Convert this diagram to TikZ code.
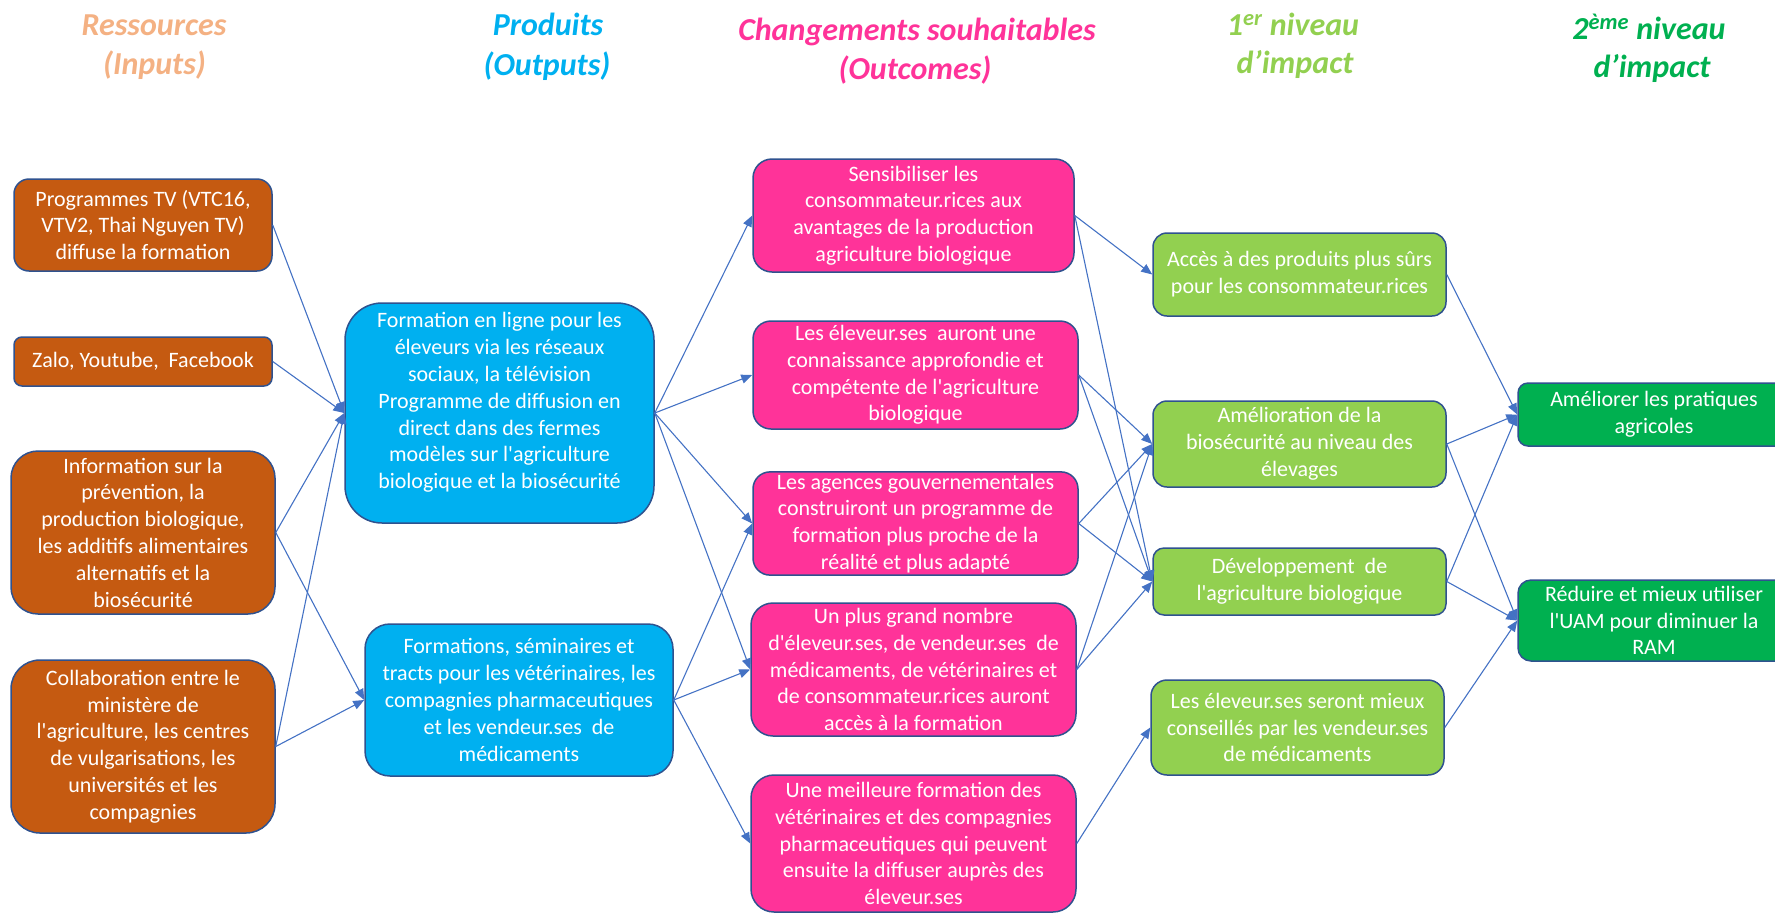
\documentclass[tikz,border=0pt]{standalone}
\usepackage{fontspec}
\setmainfont{Carlito}[Ligatures=TeXOff]
\usetikzlibrary{arrows.meta}
\definecolor{corange}{HTML}{C55A11}
\definecolor{cblue}{HTML}{00B0F0}
\definecolor{cpink}{HTML}{FF3399}
\definecolor{clgreen}{HTML}{92D050}
\definecolor{cdgreen}{HTML}{00B050}
\definecolor{hres}{HTML}{F4B183}
\definecolor{cborder}{HTML}{2F528F}
\definecolor{cline}{HTML}{4472C4}
\tikzset{
  box/.style={draw=cborder, line width=1.5pt, text=white, align=center, inner sep=2pt,
    font=\fontsize{22}{26.8}\selectfont},
  obox/.style={box, fill=corange},
  bbox/.style={box, fill=cblue},
  pbox/.style={box, fill=cpink},
  lgbox/.style={box, fill=clgreen},
  dgbox/.style={box, fill=cdgreen},
  conn/.style={draw=cline, line width=1.1pt, -{Triangle[length=11pt,width=9pt]}},
  head/.style={anchor=base, inner sep=0pt, font=\fontsize{32}{39}\selectfont\bfseries\itshape},
}
\begin{document}
\begin{tikzpicture}[x=1pt,y=-1pt]
\useasboundingbox (0,0) rectangle (1775,914);
% headers
\node[head, text=hres] (h1a) at (154,35) {Ressources};
\node[head, text=hres] (h1b) at (154.5,74) {(Inputs)};
\node[head, text=cblue] (h2a) at (548,35) {Produits};
\node[head, text=cblue] (h2b) at (547,75) {(Outputs)};
\node[head, text=cpink] (h3a) at (917,40) {Changements souhaitables};
\node[head, text=cpink] (h3b) at (915,79) {(Outcomes)};
\node[head, text=clgreen] (h4a) at (1293,35) {1\textsuperscript{er} niveau};
\node[head, text=clgreen] (h4b) at (1295,73) {d’impact};
\node[head, text=cdgreen] (h5a) at (1649,39) {2\textsuperscript{ème} niveau};
\node[head, text=cdgreen] (h5b) at (1652,77) {d’impact};
% inputs
\node[obox, minimum width=258pt, minimum height=92pt, rounded corners=15pt] (in1) at (143,225)
  {Programmes TV (VTC16,\\VTV2, Thai Nguyen TV)\\diffuse la formation};
\node[obox, minimum width=258pt, minimum height=49pt, rounded corners=8pt] (in2) at (143,361.5)
  {Zalo, Youtube,\ \ Facebook};
\node[obox, minimum width=264pt, minimum height=163pt, rounded corners=27pt] (in3) at (143,532.5)
  {Information sur la\\prévention, la\\production biologique,\\les additifs alimentaires\\alternatifs et la\\biosécurité};
\node[obox, minimum width=264pt, minimum height=173pt, rounded corners=29pt] (in4) at (143,746.5)
  {Collaboration entre le\\ministère de\\l'agriculture, les centres\\de vulgarisations, les\\universités et les\\compagnies};
% outputs
\node[bbox, minimum width=309pt, minimum height=220pt, rounded corners=37pt] (out1) at (499.5,413)
  {Formation en ligne pour les\\éleveurs via les réseaux\\sociaux, la télévision\\Programme de diffusion en\\direct dans des fermes\\modèles sur l'agriculture\\biologique et la biosécurité\\[-10pt]\strut};
\node[bbox, minimum width=308pt, minimum height=152pt, rounded corners=25pt] (out2) at (519,700)
  {Formations, séminaires et\\tracts pour les vétérinaires, les\\compagnies pharmaceutiques\\et les vendeur.ses\ \ de\\médicaments};
% outcomes
\node[pbox, minimum width=321pt, minimum height=113pt, rounded corners=19pt] (oc1) at (913.5,215.5)
  {Sensibiliser les\\consommateur.rices aux\\avantages de la production\\agriculture biologique};
\node[pbox, minimum width=325pt, minimum height=108pt, rounded corners=18pt] (oc2) at (915.5,375)
  {Les éleveur.ses\ \ auront une\\connaissance approfondie et\\compétente de l'agriculture\\biologique};
\node[pbox, minimum width=325pt, minimum height=103pt, rounded corners=17pt] (oc3) at (915.5,523.5)
  {Les agences gouvernementales\\construiront un programme de\\formation plus proche de la\\réalité et plus adapté};
\node[pbox, minimum width=325pt, minimum height=133pt, rounded corners=22pt] (oc4) at (913.5,669.5)
  {Un plus grand nombre\\d'éleveur.ses, de vendeur.ses\ \ de\\médicaments, de vétérinaires et\\de consommateur.rices auront\\accès à la formation};
\node[pbox, minimum width=325pt, minimum height=137pt, rounded corners=23pt] (oc5) at (913.5,843.5)
  {Une meilleure formation des\\vétérinaires et des compagnies\\pharmaceutiques qui peuvent\\ensuite la diffuser auprès des\\éleveur.ses};
% first level impact
\node[lgbox, minimum width=293pt, minimum height=83pt, rounded corners=14pt] (i1) at (1299.5,274.5)
  {Accès à des produits plus sûrs\\pour les consommateur.rices};
\node[lgbox, minimum width=293pt, minimum height=86pt, rounded corners=14pt] (i2) at (1299.5,444)
  {Amélioration de la\\biosécurité au niveau des\\élevages};
\node[lgbox, minimum width=293pt, minimum height=67pt, rounded corners=11pt] (i3) at (1299.5,581.5)
  {Développement\ \ de\\l'agriculture biologique};
\node[lgbox, minimum width=293pt, minimum height=95pt, rounded corners=16pt] (i4) at (1297.5,727.5)
  {Les éleveur.ses seront mieux\\conseillés par les vendeur.ses\\de médicaments};
% second level impact
\node[dgbox, minimum width=272pt, minimum height=63pt, rounded corners=10pt] (j1) at (1654,414.5)
  {Améliorer les pratiques\\agricoles};
\node[dgbox, minimum width=272pt, minimum height=81pt, rounded corners=13pt] (j2) at (1654,620.5)
  {Réduire et mieux utiliser\\l'UAM pour diminuer la\\RAM};
% connectors
\foreach \a/\b in {in1/out1, in2/out1, in3/out1, in4/out1, in3/out2, in4/out2,
  out1/oc1, out1/oc2, out1/oc3, out1/oc4, out2/oc3, out2/oc4, out2/oc5,
  oc1/i1, oc1/i3, oc2/i2, oc2/i3, oc3/i2, oc3/i3, oc4/i2, oc4/i3, oc5/i4,
  i1/j1, i2/j1, i2/j2, i3/j1, i3/j2, i4/j2}
  \draw[conn] (\a.east) -- (\b.west);
\end{tikzpicture}
\end{document}
